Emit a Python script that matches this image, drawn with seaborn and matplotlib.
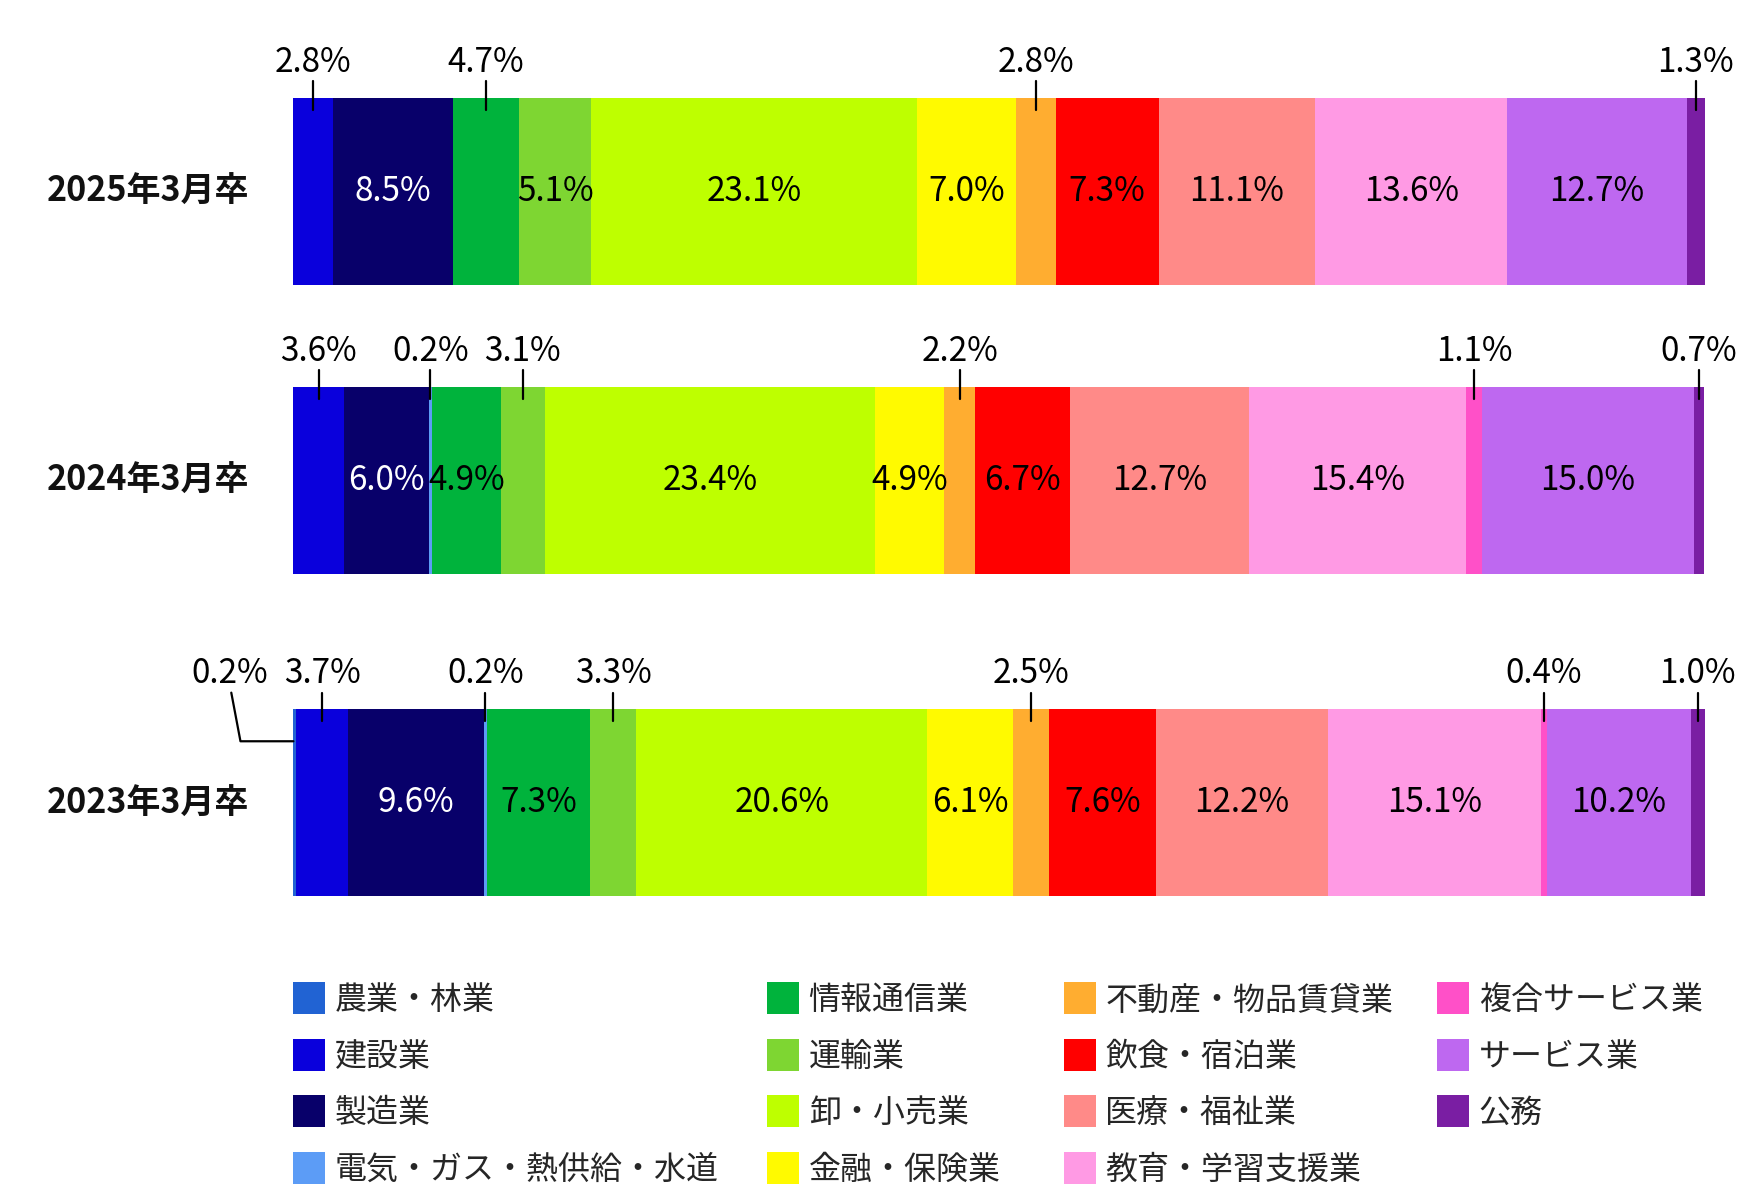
import numpy as np
import pandas as pd
import seaborn as sns
import matplotlib.pyplot as plt
from matplotlib.patches import Patch

industries = ['農業・林業', '建設業', '製造業', '電気・ガス・熱供給・水道',
              '情報通信業', '運輸業', '卸・小売業', '金融・保険業',
              '不動産・物品賃貸業', '飲食・宿泊業', '医療・福祉業', '教育・学習支援業',
              '複合サービス業', 'サービス業', '公務']
years = ['2025年3月卒', '2024年3月卒', '2023年3月卒']
share_2025 = [0.0, 2.8, 8.5, 0.0, 4.7, 5.1, 23.1, 7.0, 2.8, 7.3, 11.1, 13.6, 0.0, 12.7, 1.3]
share_2024 = [0.0, 3.6, 6.0, 0.2, 4.9, 3.1, 23.4, 4.9, 2.2, 6.7, 12.7, 15.4, 1.1, 15.0, 0.7]
share_2023 = [0.2, 3.7, 9.6, 0.2, 7.3, 3.3, 20.6, 6.1, 2.5, 7.6, 12.2, 15.1, 0.4, 10.2, 1.0]

# which small segments get their label above the bar
above_2025 = ['建設業', '情報通信業', '不動産・物品賃貸業', '公務']
above_2024 = ['建設業', '電気・ガス・熱供給・水道', '運輸業', '不動産・物品賃貸業', '複合サービス業', '公務']
above_2023 = ['農業・林業', '建設業', '電気・ガス・熱供給・水道', '運輸業', '不動産・物品賃貸業',
              '複合サービス業', '公務']

colors = ['#2163D3', '#0A00DC', '#08006A', '#5C9CF6',
          '#00B33C', '#7ED632', '#BEFF00', '#FFFA00',
          '#FFAD30', '#FF0000', '#FF8A88', '#FF9AE4',
          '#FF50C8', '#BE68F0', '#7A1EA3']

sns.set_theme(style='white')
plt.rcParams['font.family'] = ['Noto Sans CJK JP', 'DejaVu Sans']
num_size = 24

fig = plt.figure(figsize=(17.6, 11.88), dpi=100)

# axes boxes for the three bars (left, bottom, width, height in figure fraction)
bar_boxes = [[0.1667, 0.760, 0.802, 0.1574],
             [0.1667, 0.5168, 0.802, 0.1574],
             [0.1667, 0.2454, 0.802, 0.1574]]

rows = zip(years, [share_2025, share_2024, share_2023],
           [above_2025, above_2024, above_2023], bar_boxes)
for year, share, above, box in rows:
    ax = fig.add_axes(box)
    df = pd.DataFrame({'industry': industries, 'share': share, 'color': colors})
    df['end'] = df['share'].cumsum()
    df['mid'] = df['end'] - df['share'] / 2

    # stack by overlaying cumulative bars, longest first
    for i in reversed(range(len(df))):
        sns.barplot(x=[df['end'][i]], y=[year], color=df['color'][i], width=1,
                    saturation=1, orient='h', ax=ax, linewidth=0)

    ax.set_xlim(0, 100)
    ax.set_ylim(0.5, -0.5)
    ax.axis('off')

    ax.text(-0.031, 0.5, year, transform=ax.transAxes, ha='right', va='center',
            fontsize=24.5, fontweight='bold', color='#111111')

    for _, r in df.iterrows():
        if r['share'] <= 0:
            continue
        label = f"{r['share']:.1f}%"
        xc = r['mid']
        if r['industry'] in above:
            if r['industry'] == '農業・林業':
                ax.plot([xc - 4.5, xc - 3.85, xc - 0.1], [-0.59, -0.33, -0.33],
                        color='black', lw=1.6, clip_on=False)
                ax.text(xc - 4.6, -0.69, label, ha='center', va='center',
                        fontsize=num_size, color='black', clip_on=False)
            else:
                ax.plot([xc, xc], [-0.59, -0.436], color='black', lw=1.6, clip_on=False)
                ax.text(xc, -0.69, label, ha='center', va='center',
                        fontsize=num_size, color='black', clip_on=False)
        else:
            txt_color = 'white' if r['industry'] == '製造業' else 'black'
            ax.text(xc, 0.0, label, ha='center', va='center',
                    fontsize=num_size, color=txt_color)

# legend: four columns placed at fixed x positions
handles = [Patch(facecolor=c, edgecolor='none') for c in colors]
col_x = [0.1667, 0.4358, 0.6044, 0.8166]
for k, x0 in enumerate(col_x):
    idx = range(4 * k, min(4 * k + 4, len(industries)))
    fig.legend([handles[i] for i in idx], [industries[i] for i in idx],
               loc='upper left', bbox_to_anchor=(x0, 0.173), ncol=1, frameon=False,
               fontsize=23, handlelength=1.0, handleheight=1.16, handletextpad=0.3,
               labelspacing=0.71, borderpad=0, borderaxespad=0)

fig.savefig('out.png', dpi=100, facecolor='white')
